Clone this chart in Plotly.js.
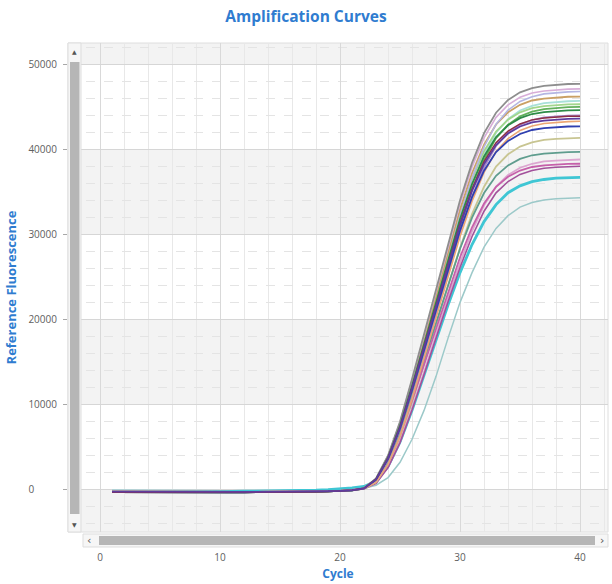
<!DOCTYPE html>
<html>
<head>
<meta charset="utf-8">
<script src="https://cdn.plot.ly/plotly-3.0.1.min.js"></script>
<style>
  html, body { margin: 0; padding: 0; background: #ffffff; }
  #chart { width: 612px; height: 584px; }
</style>
</head>
<body>
<div id="chart"></div>
<script>
// ---------------- data ----------------
const cycles = [1,2,3,4,5,6,7,8,9,10,11,12,13,14,15,16,17,18,19,20,
                21,22,23,24,25,26,27,28,29,30,31,32,33,34,35,36,37,38,39,40];

// baseline (cycles 1-21)
const baseA = [-250,-260,-270,-270,-280,-280,-280,-290,-290,-290,-290,-280,-280,-280,-270,-260,-250,-230,-200,-160,-80];
const baseB = [-320,-330,-330,-340,-340,-340,-350,-350,-340,-340,-340,-330,-330,-320,-310,-300,-280,-260,-230,-180,-100];
const baseC = [-200,-210,-220,-220,-230,-230,-230,-230,-230,-220,-220,-210,-200,-190,-170,-150,-120,-80,-20,60,200];

// amplification part (cycles 22-40)
const grayRise      = [150,1300,4000,8000,13000,18300,23700,29000,34000,38400,41900,44300,45800,46700,47200,47450,47600,47680,47700];
const pinkLavRise   = [140,1270,3960,7910,12860,18090,23410,28640,33580,37920,41350,43760,45220,46110,46630,46860,47010,47080,47100];
const lavBlueRise   = [90,890,3180,6790,11510,16660,21950,27190,32150,36640,40290,42960,44600,45630,46190,46520,46660,46750,46800];
const tanRise       = [140,1250,3880,7760,12610,17740,22960,28090,32940,37190,40560,42920,44350,45230,45740,45970,46110,46180,46200];
const lightCyanRise = [90,870,3110,6630,11240,16270,21430,26550,31400,35780,39350,41950,43550,44560,45110,45430,45560,45650,45700];
const lightGrnRise  = [140,1220,3810,7610,12370,17400,22510,27540,32300,36470,39770,42080,43490,44350,44850,45070,45210,45280,45300];
const greenRise     = [90,860,3060,6530,11070,16020,21110,26150,30920,35240,38750,41310,42890,43880,44420,44730,44870,44960,45000];
const darkGrnRise   = [130,1200,3750,7490,12180,17130,22170,27120,31800,35900,39160,41430,42820,43660,44150,44380,44510,44580,44600];
const lavPurRise    = [90,840,2990,6380,10820,15660,20640,25560,30230,34450,37880,40390,41930,42900,43430,43740,43870,43960,44000];
const darkPurRise   = [130,1180,3660,7320,11900,16740,21670,26510,31090,35100,38280,40500,41860,42680,43160,43380,43510,43580,43600];
const maroonRise    = [130,1190,3690,7380,11980,16860,21820,26690,31300,35340,38540,40780,42140,42980,43460,43680,43810,43880,43900];
const orangeRise    = [90,820,2940,6280,10650,15410,20310,25160,29750,33900,37280,39750,41260,42220,42740,43040,43170,43260,43300];
const blueRise      = [130,1150,3590,7170,11660,16400,21220,25960,30450,34370,37490,39670,40990,41800,42270,42490,42610,42680,42700];
const khakiRise     = [80,790,2810,6000,10170,14720,19390,24020,28410,32380,35600,37960,39410,40320,40810,41100,41230,41310,41350];
const tealRise      = [120,1070,3330,6670,10840,15240,19730,24140,28310,31960,34860,36880,38110,38870,39300,39500,39620,39680,39700];
const pinkRise      = [80,740,2640,5630,9540,13810,18200,22540,26660,30380,33410,35620,36980,37830,38300,38570,38680,38760,38800];
const magentaRise   = [110,1030,3220,6430,10460,14710,19040,23290,27310,30830,33630,35580,36770,37500,37920,38110,38220,38280,38300];
const purMagRise    = [80,720,2580,5510,9350,13530,17820,22080,26110,29750,32720,34880,36210,37050,37510,37770,37890,37960,38000];
const cyanRise      = [350,1000,2700,5600,9300,13400,17600,21700,25500,28800,31500,33500,34900,35700,36200,36450,36600,36670,36700];
const lightTealRise = [150,500,1400,3200,5900,9300,13300,17800,22000,25500,28500,30700,32200,33200,33750,34050,34200,34270,34300];

// series definitions: [baseline, rise, colour, width]
const series = [
  [baseC, lightTealRise, '#9cc9c9', 1.5],
  [baseC, cyanRise,      '#3fc6d4', 2.8],
  [baseA, khakiRise,     '#c8c592', 1.8],
  [baseB, tealRise,      '#5f9d8e', 1.8],
  [baseA, pinkRise,      '#dca6d0', 1.8],
  [baseB, magentaRise,   '#c660aa', 1.8],
  [baseA, purMagRise,    '#a2509a', 1.6],
  [baseA, lightCyanRise, '#a8e0d8', 1.8],
  [baseA, lightGrnRise,  '#a2d68c', 1.8],
  [baseB, tanRise,       '#caa064', 1.8],
  [baseA, lavBlueRise,   '#b4b6e2', 1.6],
  [baseA, pinkLavRise,   '#d8aed8', 1.6],
  [baseB, grayRise,      '#8e8e8e', 1.8],
  [baseA, greenRise,     '#62b05c', 1.8],
  [baseB, darkGrnRise,   '#2e8b48', 1.8],
  [baseA, lavPurRise,    '#a888cc', 1.8],
  [baseA, orangeRise,    '#eca672', 1.6],
  [baseB, blueRise,      '#3040b0', 1.8],
  [baseB, maroonRise,    '#8e2e44', 1.5],
  [baseA, darkPurRise,   '#5e3c9e', 1.8]
];

const yTickVals = [0, 10000, 20000, 30000, 40000, 50000];
const yTickText = ['0\u2007\u2007\u2007\u2007', '10000', '20000', '30000', '40000', '50000'];
const xTickVals = [0, 10, 20, 30, 40];

// ---------------- traces ----------------
const traces = series.map(s => ({
  type: 'scatter',
  mode: 'lines',
  x: cycles,
  y: s[0].concat(s[1]),
  line: { color: s[2], width: s[3], shape: 'linear' },
  hoverinfo: 'skip',
  showlegend: false
}));

// ---------------- layout helpers (pixel -> paper) ----------------
const L = 68, R = 4, T = 43, B = 52, W = 612, H = 584;
const PW = W - L - R, PH = H - T - B;
const px = v => (v - L) / PW;
const py = v => (H - B - v) / PH;

const band = (y0, y1) => ({
  type: 'rect', xref: 'paper', yref: 'y', x0: 0, x1: 1, y0: y0, y1: y1,
  fillcolor: '#f3f3f3', line: { width: 0 }, layer: 'below'
});

const shapes = [
  band(-5000, 0), band(10000, 20000), band(30000, 40000), band(50000, 52500),
  // plot frame
  { type: 'rect', xref: 'paper', yref: 'paper', x0: 0, x1: 1, y0: 0, y1: 1,
    line: { color: '#dedede', width: 1 }, fillcolor: 'rgba(0,0,0,0)', layer: 'below' },
  // vertical scrollbar
  { type: 'rect', xref: 'paper', yref: 'paper', x0: px(68), x1: px(81), y0: 0, y1: 1,
    fillcolor: '#f6f6f6', line: { color: '#dddddd', width: 1 }, layer: 'above' },
  { type: 'rect', xref: 'paper', yref: 'paper', x0: px(70), x1: px(79.5), y0: py(514), y1: py(62),
    fillcolor: '#b6b6b6', line: { width: 0 }, layer: 'above' },
  // horizontal scrollbar
  { type: 'rect', xref: 'paper', yref: 'paper', x0: px(83), x1: 1, y0: py(547), y1: py(534),
    fillcolor: '#f6f6f6', line: { color: '#dddddd', width: 1 }, layer: 'above' },
  { type: 'rect', xref: 'paper', yref: 'paper', x0: px(99), x1: px(595), y0: py(545), y1: py(536),
    fillcolor: '#b6b6b6', line: { width: 0 }, layer: 'above' }
];

const arrow = (x, y, t, size) => ({
  xref: 'paper', yref: 'paper', x: x, y: y, text: t, showarrow: false,
  font: { size: size, color: '#555555', family: 'DejaVu Sans' },
  xanchor: 'center', yanchor: 'middle'
});

const annotations = [
  arrow(px(74.5), py(51), '▲', 6),
  arrow(px(74.5), py(524), '▼', 6),
  arrow(px(89), py(540.5), '‹', 11),
  arrow(px(602), py(540.5), '›', 11)
];

const blue = '#2f7cd0';
const tickFont = { family: 'Open Sans, Noto Sans, sans-serif', size: 10, color: '#606060' };

const layout = {
  width: W, height: H,
  margin: { l: L, r: R, t: T, b: B, pad: 0 },
  paper_bgcolor: '#ffffff',
  plot_bgcolor: '#ffffff',
  font: { family: 'Open Sans, Noto Sans, sans-serif' },
  title: {
    text: '<b>Amplification Curves</b>',
    font: { family: 'Open Sans, Noto Sans, sans-serif', size: 15.5, color: blue },
    x: 0.5, xref: 'container', xanchor: 'center',
    y: 1 - 17 / H, yref: 'container', yanchor: 'middle'
  },
  xaxis: {
    range: [-2.67, 42.33],
    tickmode: 'array', tickvals: xTickVals,
    showgrid: true, gridcolor: '#d9d9d9', gridwidth: 1,
    minor: { dtick: 2, tick0: 0, showgrid: true, gridcolor: '#e8e8e8', gridwidth: 1 },
    zeroline: false, showline: false,
    ticks: '', ticklabelstandoff: 18,
    tickfont: tickFont,
    title: { text: '<b>Cycle</b>', font: { size: 12, color: blue }, standoff: 6 }
  },
  yaxis: {
    range: [-5000, 52500],
    tickmode: 'array', tickvals: yTickVals, ticktext: yTickText,
    showgrid: true, gridcolor: '#d6d6d6', gridwidth: 1,
    minor: { dtick: 2000, tick0: 0, showgrid: true, gridcolor: '#e4e4e4', griddash: 'dash', gridwidth: 1 },
    zeroline: false, showline: false,
    ticks: 'outside', ticklen: 4, tickcolor: '#a8a8a8', tickwidth: 1,
    ticklabelstandoff: 4,
    tickfont: tickFont,
    title: { text: '<b>Reference Fluorescence</b>', font: { size: 13, color: blue }, standoff: 8 }
  },
  shapes: shapes,
  annotations: annotations,
  showlegend: false
};

Plotly.newPlot('chart', traces, layout, { displayModeBar: false, staticPlot: true });
</script>
</body>
</html>
